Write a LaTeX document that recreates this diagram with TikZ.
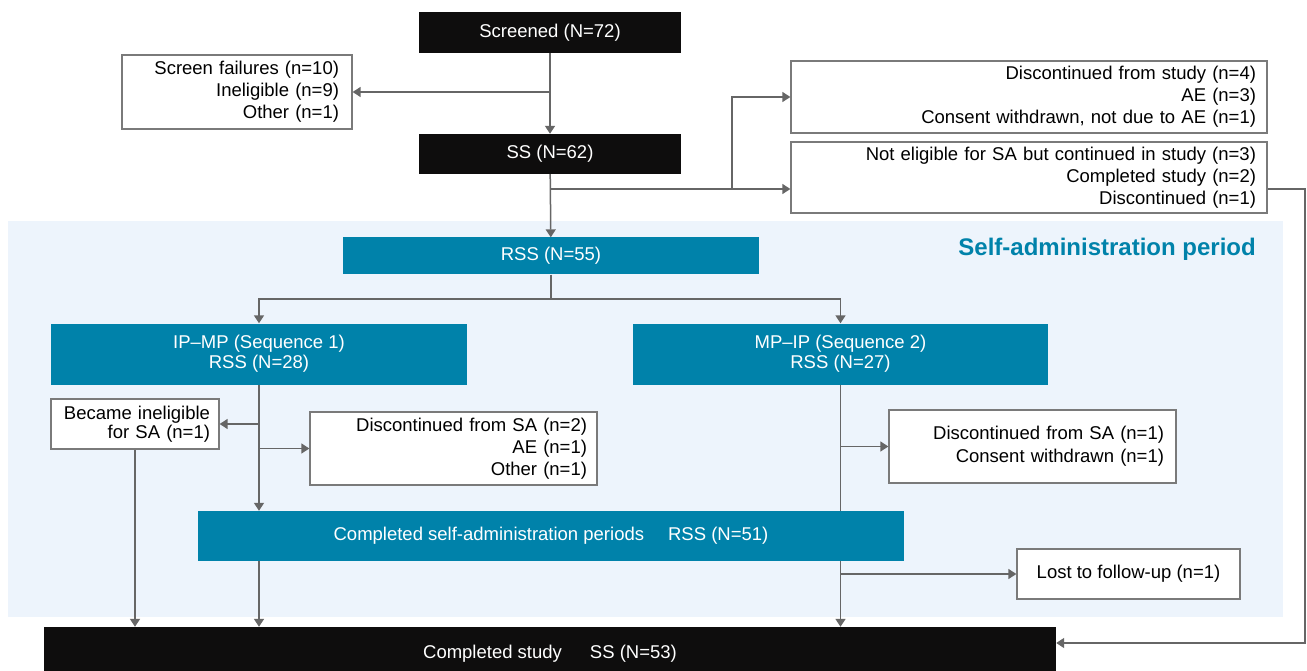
\documentclass[tikz,border=0pt]{standalone}
\usepackage{fontspec}
\setmainfont{Liberation Sans}
\usepackage{tikz}
\usetikzlibrary{positioning,calc,arrows.meta}

\definecolor{sablack}{RGB}{14,13,13}
\definecolor{sateal}{RGB}{0,130,170}
\definecolor{saback}{RGB}{237,244,252}
\definecolor{saline}{RGB}{102,102,102}
\definecolor{saframe}{RGB}{122,122,122}

\begin{document}
\begin{tikzpicture}[x=1pt, y=-1pt, font=\fontsize{18.5}{22}\selectfont,
 arr/.style = {draw=saline, line width=1.5pt, -{Triangle[length=8pt,width=10pt]}},
 lin/.style = {draw=saline, line width=1.5pt},
 blk/.style = {fill=sablack, text=white, inner sep=0pt},
 tealbox/.style = {fill=sateal, text=white, inner sep=0pt, align=center},
 note/.style = {draw=saframe, line width=1.3pt, fill=white, align=right, inner ysep=0pt}]

\clip (0,0) rectangle (1307,671);
\fill[white] (0,0) rectangle (1307,671);
\fill[saback] (8,221) rectangle (1283,617);
\node[anchor=east, inner sep=0pt, text=sateal, font=\fontsize{24}{28}\selectfont\bfseries] (title) at (1256,249) {Self-administration period};

\node[blk, minimum width=262, minimum height=41] (scr) at (550,32.5) {Screened (N=72)};
\node[note, text width=204, inner xsep=13pt, minimum height=74] (fail) at (237,92) {Screen failures (n=10)\\Ineligible (n=9)\\Other (n=1)};
\node[blk, minimum width=262, minimum height=40] (ss) at (550,154) {SS (N=62)};
\node[note, text width=454, inner xsep=11pt, minimum height=72] (dstudy) at (1029,97) {Discontinued from study (n=4)\\AE (n=3)\\Consent withdrawn, not due to AE (n=1)};
\node[note, text width=454, inner xsep=11pt, minimum height=71] (nelig) at (1029,177.5) {Not eligible for SA but continued in study (n=3)\\Completed study (n=2)\\Discontinued (n=1)};

\node[tealbox, minimum width=416, minimum height=37] (rss) at (551,256) {RSS (N=55)};
\node[tealbox, minimum width=416, minimum height=61, font=\fontsize{18.5}{20}\selectfont] (seq1) at (259,354) {IP--MP (Sequence 1)\\RSS (N=28)};
\node[tealbox, minimum width=415, minimum height=61, font=\fontsize{18.5}{20}\selectfont] (seq2) at (840.5,354) {MP--IP (Sequence 2)\\RSS (N=27)};
\node[note, text width=150, inner xsep=9pt, minimum height=50, font=\fontsize{18.5}{19}\selectfont] (inel) at (135,424) {Became ineligible\\for SA (n=1)};
\node[note, text width=267, inner xsep=10pt, minimum height=73] (dsa1) at (453.5,448.5) {Discontinued from SA (n=2)\\AE (n=1)\\Other (n=1)};
\node[note, text width=263, inner xsep=12pt, minimum height=73, font=\fontsize{18.5}{23}\selectfont] (dsa2) at (1032.5,446.5) {Discontinued from SA (n=1)\\Consent withdrawn (n=1)};
\node[tealbox, minimum width=706, minimum height=50] (csa) at (551,536) {Completed self-administration periods\hspace{24pt}RSS (N=51)};
\node[note, align=center, inner xsep=0pt, minimum width=223, minimum height=50] (lost) at (1128.5,574) {Lost to follow-up (n=1)};
\node[blk, minimum width=1012, minimum height=54] (cstudy) at (550,654) {Completed study\hspace{28pt}SS (N=53)};

\coordinate (br1) at (550,189);
\coordinate (up1) at (732,189);
\coordinate (rtop) at (1305,189);
\coordinate (rbot) at (1305,643);
\coordinate (split) at (551,299);

\draw[arr] (scr) -- (ss);
\draw[arr] (scr.south |- fail.east) -- (fail.east);
\draw[arr] (ss) -- (rss);
\draw[arr] (br1) -- (nelig.west |- br1);
\draw[arr] (up1) |- (dstudy.west);
\draw[arr] (nelig.east |- br1) -- (rtop) -- (rbot) -- (cstudy.east |- rbot);

\draw[lin] (rss) -- (split);
\draw[arr] (split) -| (seq1.north);
\draw[arr] (split) -| (seq2.north);

\draw[arr] (seq1) -- (seq1.south |- csa.north);
\draw[arr] (seq1.south |- inel.east) -- (inel.east);
\draw[arr] (seq1.south |- dsa1.west) -- (dsa1.west);
\draw[arr] (inel) -- (inel.south |- cstudy.north);
\draw[arr] (seq1.south |- csa.south) -- (seq1.south |- cstudy.north);

\draw[lin] (seq2.south) -- (seq2.south |- csa.north);
\draw[arr] (seq2.south |- dsa2.west) -- (dsa2.west);
\draw[arr] (seq2.south |- csa.south) -- (seq2.south |- cstudy.north);
\draw[arr] (seq2.south |- lost.west) -- (lost.west);
\end{tikzpicture}
\end{document}
